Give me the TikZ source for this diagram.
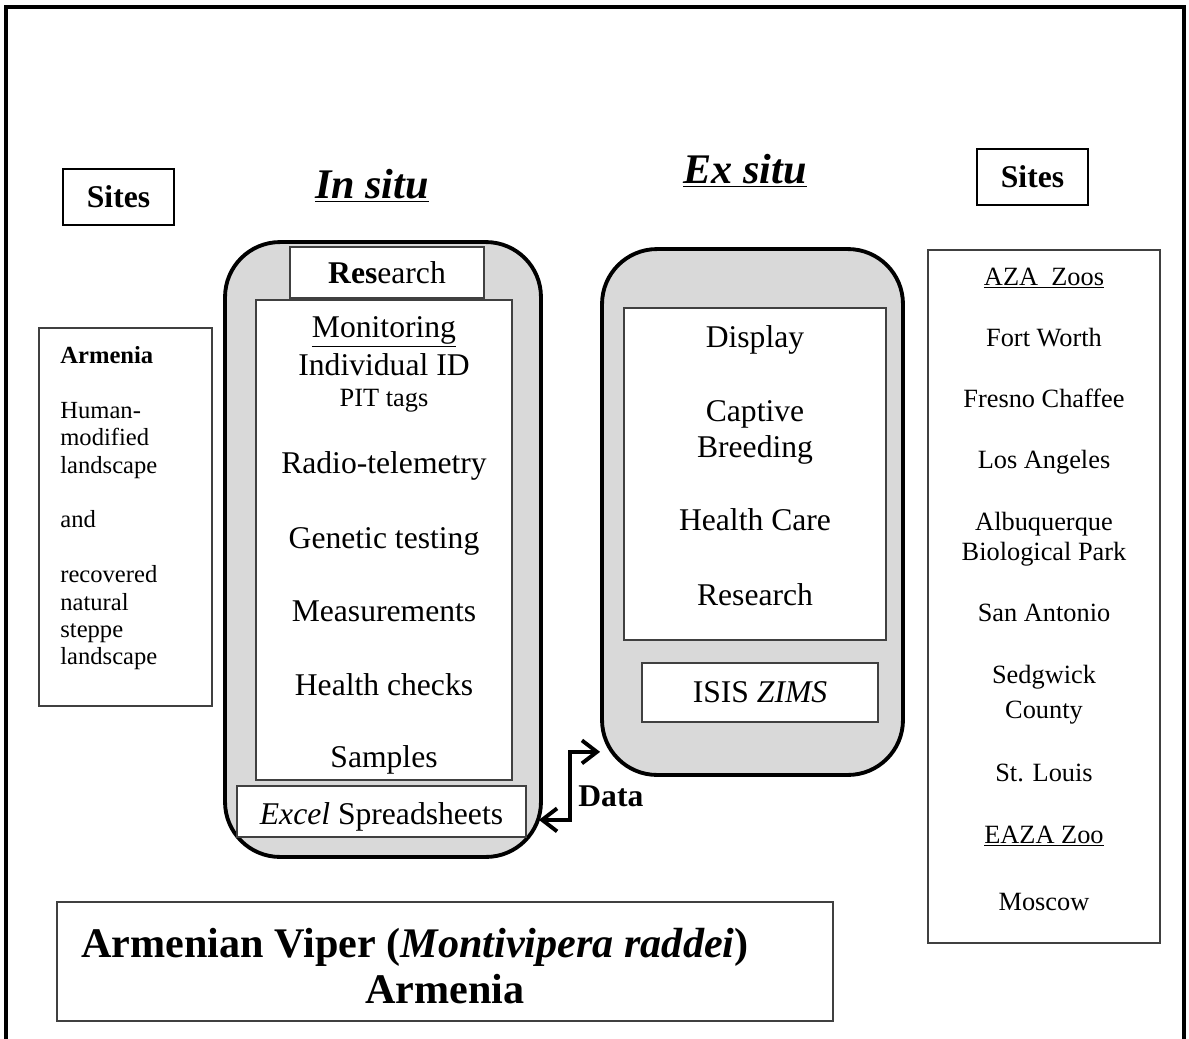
\documentclass[tikz,border=0pt]{standalone}
\usepackage{fontspec}
\setmainfont{Liberation Serif}
\usetikzlibrary{arrows.meta,positioning,calc}
\definecolor{panelgray}{HTML}{D9D9D9}

\begin{document}
\begin{tikzpicture}[
  x=0.02cm,y=-0.02cm,
  >={Straight Barb[length=3mm,width=4.6mm]},
  panel/.style={draw,line width=2.2pt,rounded corners=1.1cm,fill=panelgray,inner sep=0pt},
  box/.style={draw=black!75,line width=1pt,fill=white,inner sep=0pt},
  sitebox/.style={draw,line width=1.4pt,inner sep=0pt,minimum width=2.22cm,minimum height=1.12cm,font=\fontsize{18}{21}\selectfont\bfseries},
  txt/.style={anchor=base,inner sep=0pt,font=\fontsize{18}{22}\selectfont},
  small/.style={anchor=base,inner sep=0pt,font=\fontsize{15}{18}\selectfont},
  head/.style={anchor=base,inner sep=0pt,font=\fontsize{24}{29}\selectfont\bfseries\itshape},
  dataarrow/.style={<->,line width=2.2pt}
]
\useasboundingbox (0,0) rectangle (1189,1038);
\draw[line width=2.3pt] (6,1040) -- (6,7) -- (1184,7) -- (1184,1040);

% headings
\node[sitebox] (sitesL) at (118.5,197) {Sites};
\node[sitebox] (sitesR) at (1032.5,177) {Sites};
\node[head] (insituhd) at (372,198) {\underline{In situ}};
\node[head] (exsituhd) at (745,183) {\underline{Ex situ}};

% wild site
\node[box,minimum width=3.46cm,minimum height=7.56cm] (armbox) at (125.5,517) {};
\node[anchor=north west,inner sep=0pt,align=left,font=\fontsize{14}{15.6}\selectfont] (armtxt) at (60,346)
  {\textbf{Armenia}\\[15.6pt]Human-\\modified\\landscape\\[15.6pt]and\\[15.6pt]recovered\\natural\\steppe\\landscape};

% in situ
\node[panel,minimum width=6.32cm,minimum height=12.3cm] (insitu) at (383,549.5) {};
\node[box,minimum width=3.88cm,minimum height=1.02cm,font=\fontsize{18}{22}\selectfont] (research) at (387,272.5) {\textbf{Res}earch};
\node[box,minimum width=5.12cm,minimum height=9.6cm] (monitor) at (384,540) {};
\node[txt] (mon) at (384,337) {\underline{Monitoring}};
\node[txt] (indid) at (384,375) {Individual ID};
\node[small] (pit) at (384,406) {PIT tags};
\node[txt] (radio) at (384,473) {Radio-telemetry};
\node[txt] (genetic) at (384,548) {Genetic testing};
\node[txt] (measure) at (384,621) {Measurements};
\node[txt] (health) at (384,695) {Health checks};
\node[txt] (samples) at (384,767) {Samples};
\node[box,minimum width=5.78cm,minimum height=1.02cm] (excel) at (381.5,811.5) {};
\node[txt] (exceltxt) at (381.5,824) {\textit{Excel} Spreadsheets};

% ex situ
\node[panel,minimum width=6.02cm,minimum height=10.52cm] (exsitu) at (752.5,512) {};
\node[box,minimum width=5.24cm,minimum height=6.64cm] (exinner) at (755,474) {};
\node[txt] (display) at (755,347) {Display};
\node[txt] (captive) at (755,421) {Captive};
\node[txt] (breeding) at (755,457) {Breeding};
\node[txt] (care) at (755,530) {Health Care};
\node[txt] (exres) at (755,605) {Research};
\node[box,minimum width=4.72cm,minimum height=1.18cm,font=\fontsize{18}{22}\selectfont] (isis) at (760,692.5) {ISIS \textit{ZIMS}};

% zoos
\node[box,minimum width=4.64cm,minimum height=13.86cm] (zoobox) at (1044,596.5) {};
\node[small] (aza) at (1044,285) {\underline{AZA~~Zoos}};
\node[small] (fortworth) at (1044,346) {Fort Worth};
\node[small] (fresno) at (1044,407) {Fresno Chaffee};
\node[small] (losangeles) at (1044,468) {Los Angeles};
\node[small] (albuq) at (1044,530) {Albuquerque};
\node[small] (biopark) at (1044,560) {Biological Park};
\node[small] (sanantonio) at (1044,621) {San Antonio};
\node[small] (sedgwick) at (1044,683) {Sedgwick};
\node[small] (county) at (1044,718) {County};
\node[small] (stlouis) at (1044,781) {St. Louis};
\node[small] (eaza) at (1044,843) {\underline{EAZA Zoo}};
\node[small] (moscow) at (1044,910) {Moscow};

% title
\node[box,minimum width=15.52cm,minimum height=2.38cm] (titlebox) at (445,961.5) {};
\node[anchor=base,inner sep=0pt,font=\fontsize{24}{28}\selectfont\bfseries] (title1) at (415,957) {Armenian Viper (\textit{Montivipera raddei})};
\node[anchor=base,inner sep=0pt,font=\fontsize{24}{28}\selectfont\bfseries] (title2) at (445,1003) {Armenia};

% data link
\draw[dataarrow] ($(insitu.south east)+(-4,-39)$) -- ++(31,0) |- ($(exsitu.south west)+(0,-25)$);
\node[anchor=base west,inner sep=0pt,font=\fontsize{18}{22}\selectfont\bfseries] (datalbl) at (578,806) {Data};
\end{tikzpicture}
\end{document}
